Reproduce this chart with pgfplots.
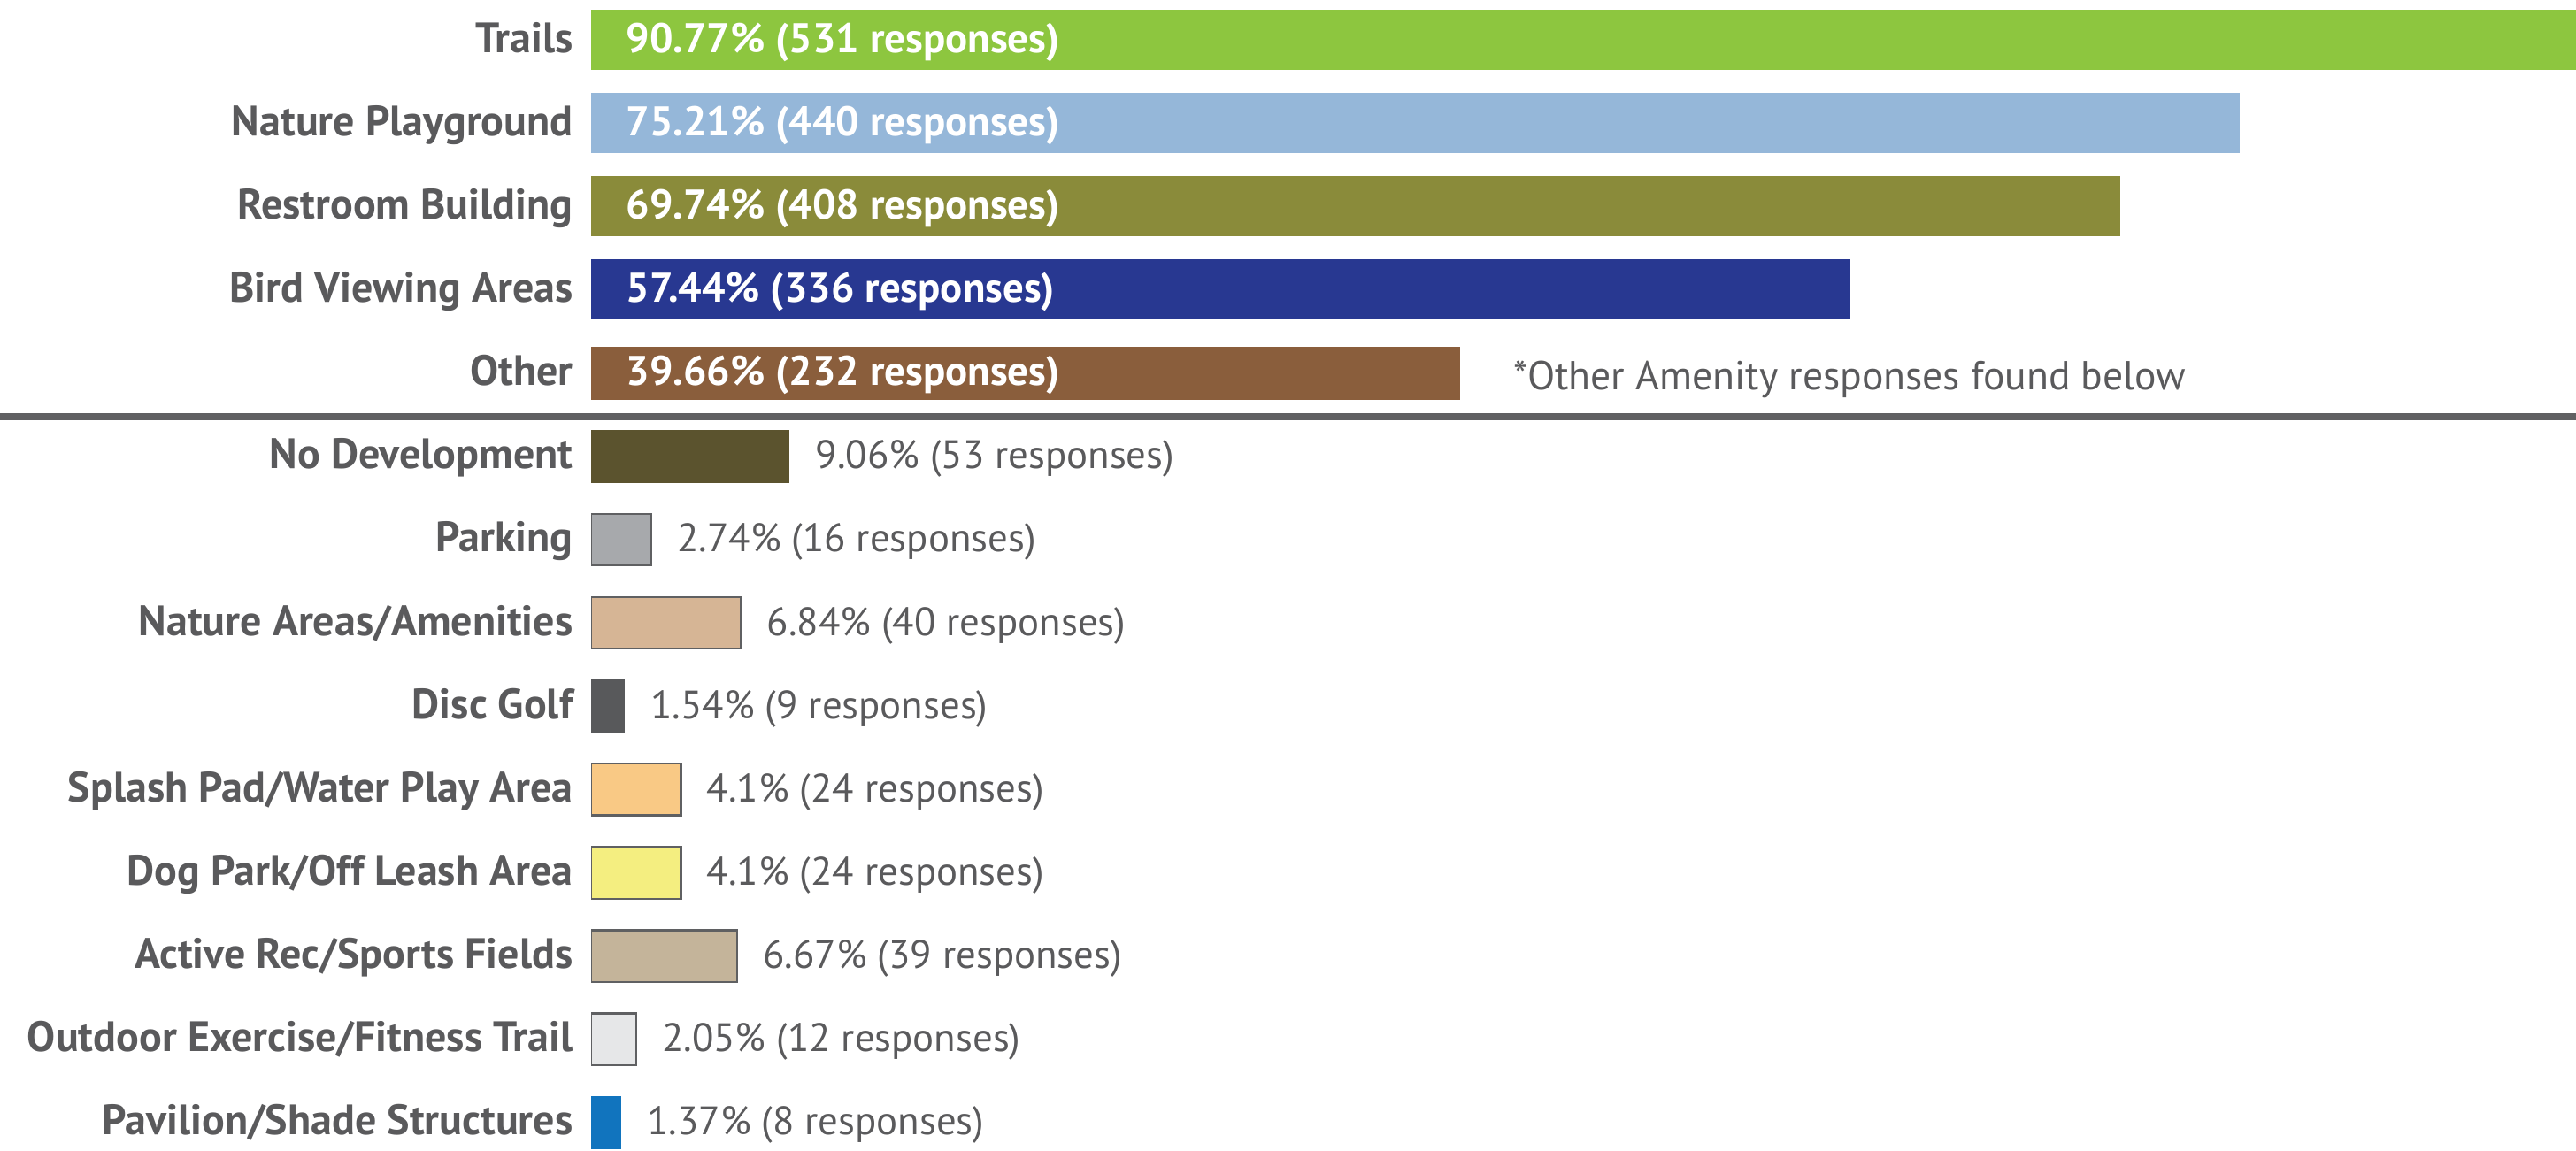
\documentclass[border=0pt]{standalone}
\usepackage{pgfplots}
\pgfplotsset{compat=1.18}
\usepackage{fontspec}
\setmainfont{PT Sans}
\definecolor{txt}{HTML}{5A5A5C}
\definecolor{sepc}{HTML}{606062}
\definecolor{bord}{HTML}{5F6062}
\definecolor{cTrails}{HTML}{8DC63F}
\definecolor{cPlay}{HTML}{95B7D9}
\definecolor{cRest}{HTML}{8A8B3A}
\definecolor{cBird}{HTML}{283891}
\definecolor{cOther}{HTML}{8A5E3C}
\definecolor{cNoDev}{HTML}{5B532E}
\definecolor{cPark}{HTML}{A7A9AC}
\definecolor{cNatA}{HTML}{D6B595}
\definecolor{cDisc}{HTML}{58595B}
\definecolor{cSplash}{HTML}{F9C985}
\definecolor{cDog}{HTML}{F4EE80}
\definecolor{cActive}{HTML}{C4B49A}
\definecolor{cOut}{HTML}{E6E7E8}
\definecolor{cPav}{HTML}{1174BE}
\begin{document}
\begin{tikzpicture}[font=\fontsize{11.5}{13}\selectfont]
\useasboundingbox (0,0) rectangle (727.75pt,325pt);
\begin{axis}[
  at={(167pt,0pt)}, anchor=south west,
  scale only axis, width=560.75pt, height=325pt,
  xmin=0, xmax=90.55, ymin=-0.478, ymax=13.33, y dir=reverse,
  enlargelimits=false,
  axis line style={draw=none},
  xtick=\empty,
  ytick={0,1,2,3,4,5,6,7,8,9,10,11,12,13},
  yticklabels={Trails, Nature Playground, Restroom Building, Bird Viewing Areas, Other,
    No Development, Parking, Nature Areas/Amenities, Disc Golf, Splash Pad/Water Play Area,
    Dog Park/Off Leash Area, Active Rec/Sports Fields, Outdoor Exercise/Fitness Trail,
    Pavilion/Shade Structures},
  major tick length=0pt, tick style={draw=none},
  yticklabel style={font=\fontsize{12}{13}\selectfont\bfseries, text=txt,
    anchor=base east, yshift=-0.35em, xshift=-1.6pt},
  clip mode=individual,
  topbar/.style={xbar, bar width=17pt, bar shift=0pt, draw=none},
  lowbar/.style={xbar, bar width=14.6pt, bar shift=0pt, draw=bord, line width=0.6pt},
  lowbarn/.style={xbar, bar width=15pt, bar shift=0pt, draw=none},
]
\addplot[topbar, fill=cTrails] coordinates {(90.77,0)};
\addplot[topbar, fill=cPlay] coordinates {(75.21,1)};
\addplot[topbar, fill=cRest] coordinates {(69.74,2)};
\addplot[topbar, fill=cBird] coordinates {(57.44,3)};
\addplot[lowbarn, fill=cOther] coordinates {(39.66,4)};
\addplot[lowbarn, fill=cNoDev] coordinates {(9.06,5)};
\addplot[lowbar, fill=cPark] coordinates {(2.74,6)};
\addplot[lowbar, fill=cNatA] coordinates {(6.84,7)};
\addplot[lowbarn, fill=cDisc] coordinates {(1.54,8)};
\addplot[lowbar, fill=cSplash] coordinates {(4.1,9)};
\addplot[lowbar, fill=cDog] coordinates {(4.1,10)};
\addplot[lowbar, fill=cActive] coordinates {(6.67,11)};
\addplot[lowbar, fill=cOut] coordinates {(2.05,12)};
\addplot[lowbarn, fill=cPav] coordinates {(1.37,13)};
% labels inside the top bars
\addplot[draw=none, point meta=explicit symbolic, nodes near coords={\pgfplotspointmeta},
  every node near coord/.append style={anchor=base west, yshift=-0.35em, xshift=6.4pt,
    text=white, font=\fontsize{11.7}{13}\selectfont\bfseries}]
  coordinates {
  (0,0) [90.77\% (531 responses)]
  (0,1) [75.21\% (440 responses)]
  (0,2) [69.74\% (408 responses)]
  (0,3) [57.44\% (336 responses)]
  (0,4) [39.66\% (232 responses)]
  };
% labels after the lower bars
\addplot[draw=none, point meta=explicit symbolic, nodes near coords={\pgfplotspointmeta},
  every node near coord/.append style={anchor=base west, yshift=-0.35em, xshift=3.8pt,
    text=txt, font=\fontsize{11.2}{13}\selectfont}]
  coordinates {
  (9.06,5) [9.06\% (53 responses)]
  (2.74,6) [2.74\% (16 responses)]
  (6.84,7) [6.84\% (40 responses)]
  (1.54,8) [1.54\% (9 responses)]
  (4.1,9) [4.1\% (24 responses)]
  (4.1,10) [4.1\% (24 responses)]
  (6.67,11) [6.67\% (39 responses)]
  (2.05,12) [2.05\% (12 responses)]
  (1.37,13) [1.37\% (8 responses)]
  };
\draw[sepc, line width=2pt] ([xshift=-170pt]axis cs:0,4.52) -- ([xshift=5pt]axis cs:90.55,4.52);
\node[anchor=base west, text=txt, yshift=-0.35em-1.2pt, font=\fontsize{11.4}{13}\selectfont]
  at (axis cs:41.5,4) {*Other Amenity responses found below};
\end{axis}
\end{tikzpicture}
\end{document}
